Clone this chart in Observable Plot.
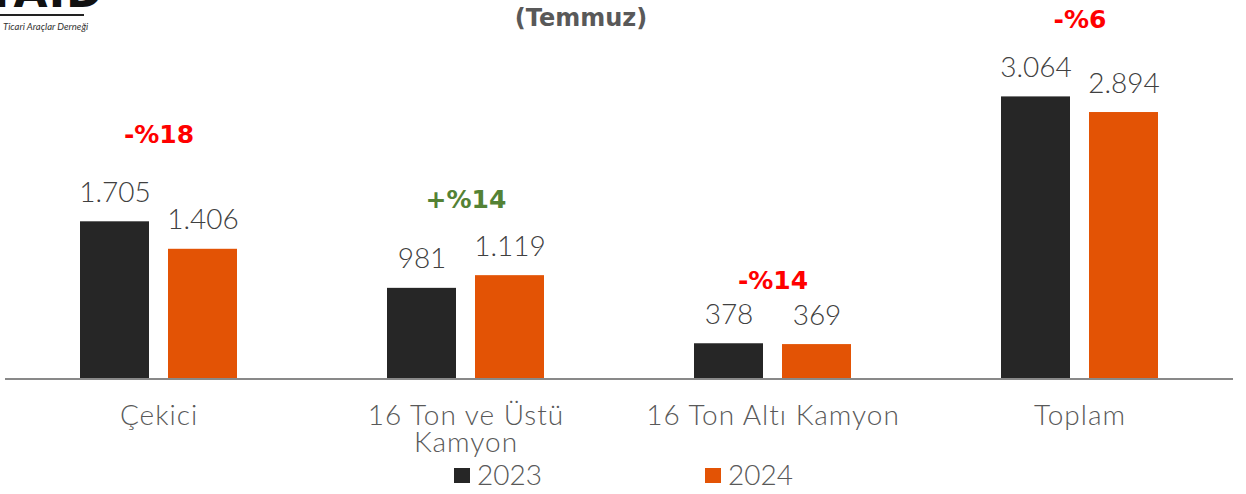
<!DOCTYPE html>
<html>
<head>
<meta charset="utf-8">
<script src="https://cdn.jsdelivr.net/npm/d3@7"></script>
<script src="https://cdn.jsdelivr.net/npm/@observablehq/plot@0.6"></script>
<style>
  html, body { margin: 0; padding: 0; background: #fff; }
  body { width: 1246px; height: 494px; overflow: hidden; position: relative; font-family: "Lato", "Open Sans", sans-serif; }
  #title { position: absolute; left: 581px; top: 6px; transform: translateX(-50%); font-family: "DejaVu Sans", sans-serif; font-size: 24px; line-height: 24px; font-weight: 700; color: #595959; white-space: nowrap; }
  #logo { position: absolute; left: 0; top: 0; width: 110px; height: 40px; overflow: hidden; }
  #logo .big { position: absolute; left: -14px; top: -30px; font-family: "DejaVu Sans", sans-serif; font-weight: 900; font-size: 44px; line-height: 44px; color: #111; letter-spacing: 1px; }
  #logo .line { position: absolute; left: 0; top: 14px; width: 84px; height: 1.5px; background: #222; }
  #logo .sub { position: absolute; left: 3px; top: 21px; font-size: 9.5px; line-height: 12px; font-style: italic; color: #333; white-space: nowrap; }
  #chart { position: absolute; left: 0; top: 0; }
  #chart g[aria-label="x-axis tick label"] text { letter-spacing: 1px; }
  #legend { position: absolute; left: 0; top: 460px; width: 1246px; height: 34px; }
  #legend .sw { position: absolute; top: 8px; width: 16px; height: 15px; }
  #legend .lab { position: absolute; top: 0; font-size: 28px; line-height: 28px; font-weight: 300; color: #595959; }
</style>
</head>
<body>
<div id="chart"></div>
<div id="logo"><div class="big">TAID</div><div class="line"></div><div class="sub">Ticari Araçlar Derneği</div></div>
<div id="title">(Temmuz)</div>
<div id="legend"></div>
<script>
// ---- data ----
const categories = ["Çekici", "16 Ton ve Üstü Kamyon", "16 Ton Altı Kamyon", "Toplam"];
const years = ["2023", "2024"];
const values2023 = [1705, 981, 378, 3064];
const values2024 = [1406, 1119, 369, 2894];
const changeLabels = ["-%18", "+%14", "-%14", "-%6"];

// ---- layout / style (not data) ----
const colors = {"2023": "#262626", "2024": "#E35305"};
const changeColors = ["#FF0000", "#548235", "#FF0000", "#FF0000"];
const changeLift = [79, 68, 55, 69];

const fmt = d3.formatLocale({decimal: ",", thousands: ".", grouping: [3], currency: ["", ""]}).format(",d");

const rows = [];
categories.forEach((c, i) => {
  rows.push({category: c, year: "2023", value: values2023[i]});
  rows.push({category: c, year: "2024", value: values2024[i]});
});
const r23 = rows.filter(d => d.year === "2023");
const r24 = rows.filter(d => d.year === "2024");
const changes = categories.map((c, i) => ({category: c, label: changeLabels[i], top: Math.max(values2023[i], values2024[i])}));

const font = "Lato, 'Open Sans', sans-serif";

const plot = Plot.plot({
  width: 1246,
  height: 460,
  marginTop: 0,
  marginBottom: 82,
  marginLeft: 5,
  marginRight: 13,
  style: {fontFamily: font, background: "transparent", overflow: "visible"},
  x: {type: "band", domain: categories, paddingInner: 0.365, paddingOuter: 0.182, label: null},
  y: {domain: [0, 4113], axis: null},
  marks: [
    Plot.barY(r23, {x: "category", y: "value", fill: colors["2023"], insetLeft: 19, insetRight: 107}),
    Plot.barY(r24, {x: "category", y: "value", fill: colors["2024"], insetLeft: 107, insetRight: 19}),
    Plot.ruleY([0], {stroke: "#898989", strokeWidth: 2, dy: 0.5}),
    Plot.text(r23, {x: "category", y: "value", text: d => fmt(d.value), dx: -44, dy: -20, lineAnchor: "bottom", fontSize: 28, fontWeight: 300, fill: "#404040"}),
    Plot.text(r24, {x: "category", y: "value", text: d => fmt(d.value), dx: 44, dy: -20, lineAnchor: "bottom", fontSize: 28, fontWeight: 300, fill: "#404040"}),
    ...changes.map((d, i) => Plot.text([d], {x: "category", y: "top", text: "label", dy: -changeLift[i], lineAnchor: "bottom", fontFamily: "DejaVu Sans, sans-serif", fontSize: 25, fontWeight: 700, fill: changeColors[i]})),
    Plot.axisX({
      tickSize: 0,
      tickPadding: 28,
      fontSize: 28,
      fontWeight: 300,
      lineHeight: 0.95,
      fill: "#595959",
      label: null,
      tickFormat: d => d.length > 20 ? d.replace(/ (\S+)$/, "\n$1") : d
    })
  ]
});
document.getElementById("chart").appendChild(plot);

// legend
const legend = document.getElementById("legend");
const legendX = [454, 705];
years.forEach((y, i) => {
  const sw = document.createElement("div");
  sw.className = "sw";
  sw.style.left = legendX[i] + "px";
  sw.style.background = colors[y];
  legend.appendChild(sw);
  const lab = document.createElement("div");
  lab.className = "lab";
  lab.style.left = (legendX[i] + 23) + "px";
  lab.textContent = y;
  legend.appendChild(lab);
});
</script>
</body>
</html>
